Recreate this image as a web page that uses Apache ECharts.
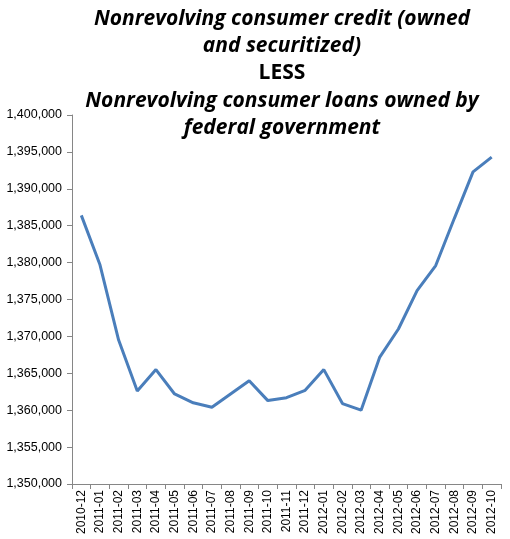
<!DOCTYPE html>
<html><head><meta charset="utf-8">
<script src="https://cdn.jsdelivr.net/npm/echarts@6/dist/echarts.min.js"></script>
<style>html,body{margin:0;padding:0;background:#fff}#c{width:510px;height:539px}</style>
</head><body><div id="c"></div>
<script>
const categories = ["2010-12","2011-01","2011-02","2011-03","2011-04","2011-05","2011-06","2011-07","2011-08","2011-09","2011-10","2011-11","2011-12","2012-01","2012-02","2012-03","2012-04","2012-05","2012-06","2012-07","2012-08","2012-09","2012-10"];
const values = [1386400,1379700,1369500,1362600,1365500,1362200,1361000,1360400,1362200,1364000,1361300,1361700,1362700,1365500,1360900,1360000,1367200,1371000,1376200,1379600,1386000,1392300,1394300];
const titleLines = ["Nonrevolving consumer credit (owned","and securitized)","LESS","Nonrevolving consumer loans owned by","federal government"];

const chart = echarts.init(document.getElementById('c'));
chart.setOption({
  animation: false,
  title: {
    text: titleLines.map((t,i)=> i===2 ? '{b|'+t+'}' : '{i|'+t+'}').join('\n'),
    left: 277, top: 0, textAlign: 'center',
    textStyle: {
      rich: {
        i: {fontFamily: 'Open Sans', fontWeight: 'bold', fontStyle: 'italic', fontSize: 21, lineHeight: 27.3, color: '#000'},
        b: {fontFamily: 'Open Sans', fontWeight: 'bold', fontSize: 21, lineHeight: 27.3, color: '#000'}
      }
    }
  },
  grid: {left: 72, right: 9, top: 115, bottom: 55, containLabel: false},
  xAxis: {
    type: 'category', data: categories, boundaryGap: true,
    axisLine: {lineStyle: {color: '#868686'}},
    axisTick: {show: true, length: 5, interval: 0, lineStyle: {color: '#868686'}},
    axisLabel: {rotate: 90, interval: 0, fontFamily: 'Liberation Sans', fontSize: 12, color: '#000', margin: 6}
  },
  yAxis: {
    type: 'value', min: 1350000, max: 1400000, interval: 5000,
    axisLine: {show: true, lineStyle: {color: '#868686'}},
    axisTick: {show: true, length: 5, lineStyle: {color: '#868686'}},
    splitLine: {show: false},
    axisLabel: {fontFamily: 'Liberation Sans', fontSize: 12.5, color: '#000', margin: 10,
      formatter: v => v.toLocaleString('en-US')}
  },
  series: [{
    type: 'line', data: values, showSymbol: false,
    lineStyle: {color: '#4a7ebb', width: 3}
  }]
});
</script></body></html>
